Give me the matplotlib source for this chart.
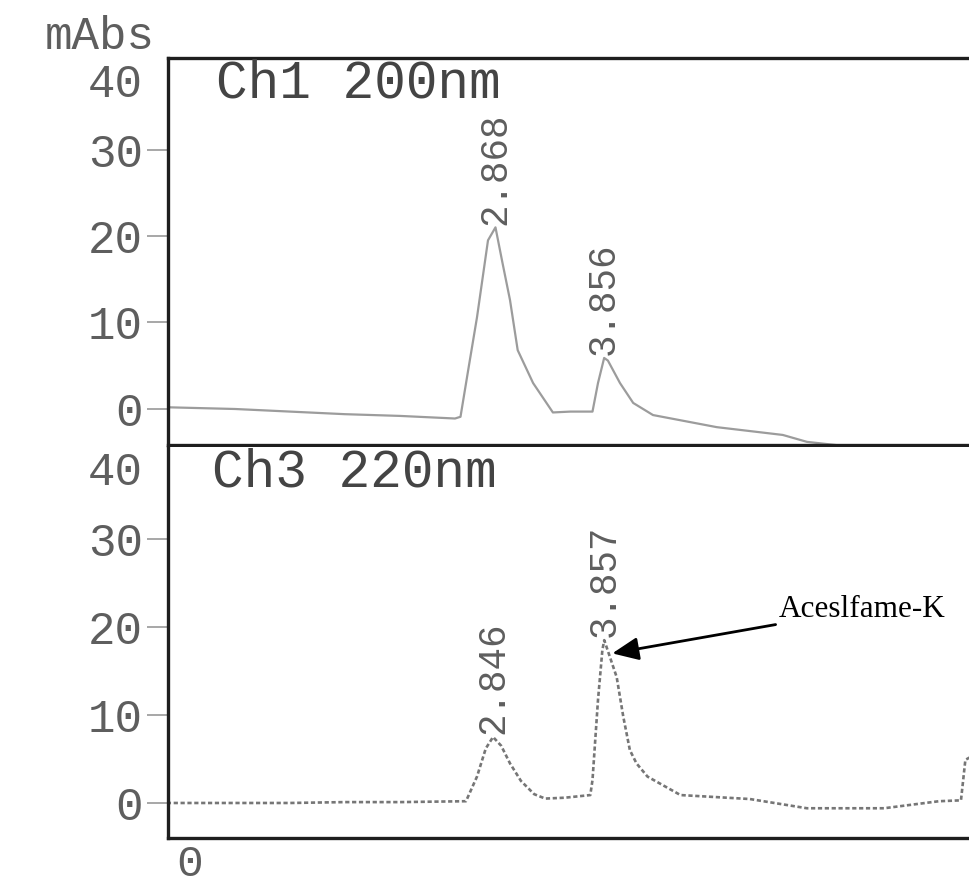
import matplotlib
matplotlib.use("Agg")
import matplotlib.pyplot as plt
import matplotlib.transforms as mtransforms

# Retention time (min) and absorbance (mAbs) for each detector channel
ch1_time = [-0.12, 0.50, 1.00, 1.50, 2.00, 2.50, 2.55, 2.62, 2.70, 2.80, 2.868,
            2.93, 3.00, 3.07, 3.21, 3.39, 3.55, 3.75, 3.80, 3.856, 3.89, 4.00,
            4.12, 4.30, 4.88, 5.48, 5.70, 6.20, 7.30]
ch1_mabs = [0.2, 0.0, -0.3, -0.6, -0.8, -1.1, -0.9, 4.5, 10.6, 19.5, 21.0,
            17.0, 12.6, 6.8, 3.0, -0.4, -0.3, -0.3, 3.0, 5.9, 5.6, 3.0,
            0.7, -0.7, -2.1, -3.0, -3.8, -4.5, -4.6]

ch3_time = [-0.12, 0.50, 1.00, 1.50, 2.00, 2.60, 2.70, 2.78, 2.846, 2.92, 3.00,
            3.10, 3.22, 3.32, 3.50, 3.73, 3.75, 3.80, 3.84, 3.857, 3.97, 4.03,
            4.09, 4.15, 4.25, 4.55, 5.18, 5.70, 6.40, 6.90, 7.10, 7.14, 7.30]
ch3_mabs = [0.0, 0.0, 0.0, 0.1, 0.1, 0.2, 3.0, 6.2, 7.5, 6.5, 4.5,
            2.5, 1.0, 0.5, 0.6, 0.9, 2.6, 11.7, 17.4, 18.5, 14.3, 9.8,
            6.0, 4.5, 3.0, 0.9, 0.45, -0.6, -0.6, 0.2, 0.3, 4.9, 6.0]

ch1_title = "Ch1 200nm"
ch3_title = "Ch3 220nm"
ch1_peaks = [(2.868, 21.0, "2.868"), (3.856, 5.9, "3.856")]
ch3_peaks = [(2.846, 7.5, "2.846"), (3.857, 18.5, "3.857")]
y_ticks = [0, 10, 20, 30, 40]
y_label = "mAbs"
compound = "Aceslfame-K"

MONO = "Liberation Mono"
GREY = "#5e5e5e"

fig = plt.figure(figsize=(9.69, 8.88), dpi=100)
ax1 = fig.add_axes([0.1734, 0.4989, 0.8266, 0.4358])
ax3 = fig.add_axes([0.1734, 0.0563, 0.8266, 0.4403])

for ax in (ax1, ax3):
    ax.set_xlim(-0.109, 7.173)
    ax.spines["right"].set_visible(False)
    for side in ("left", "top", "bottom"):
        ax.spines[side].set_linewidth(2.4)
        ax.spines[side].set_color("#1e1e1e")
    ax.set_yticks(y_ticks)
    ax.set_yticklabels([str(v) for v in y_ticks], family=MONO,
                       fontsize=33, color=GREY)
    ax.tick_params(axis="y", direction="out", length=15, width=1.3,
                   color="#a0a0a0", pad=3)
    # the top label sits just under the frame and carries no tick mark
    top_tick = ax.yaxis.get_major_ticks()[-1]
    top_tick.tick1line.set_visible(False)
    top_tick.label1.set_verticalalignment("top")

ax1.set_ylim(-4.16, 40.58)
ax3.set_ylim(-3.98, 40.45)
ax3.spines["top"].set_visible(False)

ax1.set_xticks([])
ax3.set_xticks([0])
ax3.set_xticklabels(["0"], family=MONO, fontsize=32, color=GREY)
ax3.tick_params(axis="x", length=0, pad=4)
# printed time-axis label sits a little right of the origin
shift = mtransforms.ScaledTranslation(10 / 100, 0, fig.dpi_scale_trans)
for lab in ax3.get_xticklabels():
    lab.set_transform(lab.get_transform() + shift)

# chromatogram traces
ax1.plot(ch1_time, ch1_mabs, color="#9c9c9c", lw=1.6, solid_joinstyle="round")
ax3.plot(ch3_time, ch3_mabs, color="#767676", lw=1.9,
         linestyle=(0, (1.6, 1.0)))

# channel headers
ax1.text(0.06, 0.935, ch1_title, transform=ax1.transAxes, family=MONO,
         fontsize=38, color="#444444", va="center", ha="left")
ax3.text(0.055, 0.935, ch3_title, transform=ax3.transAxes, family=MONO,
         fontsize=38, color="#444444", va="center", ha="left")

# retention time labels above each peak
for ax, peaks in ((ax1, ch1_peaks), (ax3, ch3_peaks)):
    for t, h, lab in peaks:
        ax.annotate(lab, xy=(t, h), xytext=(0, 2), textcoords="offset points",
                    rotation=90, ha="center", va="bottom", family=MONO,
                    fontsize=27, color=GREY)

# compound call-out
ax3.annotate(compound, xy=(3.93, 17.0), xytext=(5.44, 22.0),
             family="Liberation Serif", fontsize=22.5, color="black",
             ha="left", va="center",
             arrowprops=dict(arrowstyle="-|>,head_length=0.8,head_width=0.35",
                             color="black", lw=2.0, mutation_scale=20,
                             shrinkA=0, shrinkB=0))

fig.text(155 / 969, 1 - 37 / 888, y_label, family=MONO, fontsize=33,
         color=GREY, ha="right", va="center")

fig.savefig("out.png", dpi=100, facecolor="white")
